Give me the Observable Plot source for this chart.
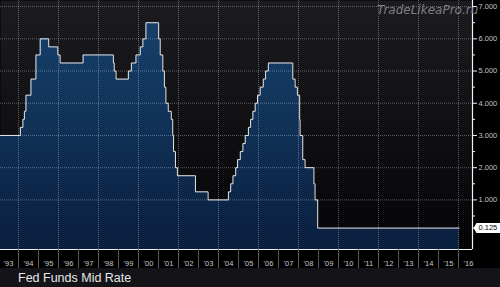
<!DOCTYPE html>
<html><head><meta charset="utf-8">
<script src="https://cdn.jsdelivr.net/npm/d3@7"></script>
<script src="https://cdn.jsdelivr.net/npm/@observablehq/plot@0.6"></script>
<style>
html,body{margin:0;padding:0;background:#000;}
#wrap{position:relative;width:500px;height:287px;overflow:hidden;background:#000;}
#chart svg{display:block;}
#caption{height:19px;background:#141418;color:#e8e8e8;font:12.5px "Liberation Sans",Arial,sans-serif;padding-left:18px;box-sizing:border-box;line-height:19px;padding-top:1px;}
#wm{position:absolute;left:377px;top:3px;font:italic 12px "DejaVu Sans",sans-serif;color:#7e7e84;white-space:nowrap;}
</style></head><body>
<div id="wrap"><div id="chart"></div><div id="caption">Fed Funds Mid Rate</div><div id="wm">TradeLikeaPro.ru</div></div>
<script>
// Fed funds mid rate: dates of each change and the new level
const changeDates = ["1992-09-04","1994-02-04","1994-03-22","1994-04-18","1994-05-17","1994-08-16","1994-11-15","1995-02-01","1995-07-06","1995-12-19","1996-01-31","1997-03-25","1998-09-29","1998-10-15","1998-11-17","1999-06-30","1999-08-24","1999-11-16","2000-02-02","2000-03-21","2000-05-16","2001-01-03","2001-01-31","2001-03-20","2001-04-18","2001-05-15","2001-06-27","2001-08-21","2001-09-17","2001-10-02","2001-11-06","2001-12-11","2002-11-06","2003-06-25","2004-06-30","2004-08-10","2004-09-21","2004-11-10","2004-12-14","2005-02-02","2005-03-22","2005-05-03","2005-06-30","2005-08-09","2005-09-20","2005-11-01","2005-12-13","2006-01-31","2006-03-28","2006-05-10","2006-06-29","2007-09-18","2007-10-31","2007-12-11","2008-01-22","2008-01-30","2008-03-18","2008-04-30","2008-10-08","2008-10-29","2008-12-16","2016-01-15"];
const rates = [3.00,3.25,3.50,3.75,4.25,4.75,5.50,6.00,5.75,5.50,5.25,5.50,5.25,5.00,4.75,5.00,5.25,5.50,5.75,6.00,6.50,6.00,5.50,5.00,4.50,4.00,3.75,3.50,3.00,2.50,2.00,1.75,1.25,1.00,1.25,1.50,1.75,2.00,2.25,2.50,2.75,3.00,3.25,3.50,3.75,4.00,4.25,4.50,4.75,5.00,5.25,4.75,4.50,4.25,3.50,3.00,2.25,2.00,1.50,1.00,0.125,0.125];
const yearLabels = [1993,1994,1995,1996,1997,1998,1999,2000,2001,2002,2003,2004,2005,2006,2007,2008,2009,2010,2011,2012,2013,2014,2015,2016];
const gridYears = [1994,1996,1998,2000,2002,2004,2006,2008,2010,2012,2014,2016];
const yTicks = [1,2,3,4,5,6,7];
const yMinorTicks = [0.5,1.5,2.5,3.5,4.5,5.5,6.5];
const lastValue = [0.125];
const xDomain = ["1993-02-06","2016-09-12"];
const yDomain = [-0.54, 7.19];

const data = changeDates.map((d,i)=>({date:new Date(d+"T00:00:00Z"), rate:rates[i]}));
const utc = (y,m,d)=>new Date(Date.UTC(y,m,d));
const yearStarts = d3.range(1993,2018).map(y=>utc(y,0,1));
const midYears = yearLabels.map(y=>utc(y,6,1));
const grids = gridYears.map(y=>utc(y,0,1));
const xd = xDomain.map(d=>new Date(d+"T00:00:00Z"));
const font = "'Liberation Sans', Arial, sans-serif";

const chart = Plot.plot({
  width: 500, height: 268,
  marginTop: 0, marginBottom: 19, marginLeft: 0, marginRight: 28,
  style: {background: "#000", fontFamily: font, overflow: "visible"},
  x: {type: "utc", domain: xd},
  y: {domain: yDomain},
  marks: [
    Plot.frame({fill: "url(#bgGrad)", stroke: null}),
    Plot.areaY(data, {x: "date", y1: () => yDomain[0], y2: "rate", curve: "step-after", fill: "url(#areaGrad)", clip: true}),
    Plot.ruleY(yTicks, {stroke: "#fff", strokeOpacity: 0.32, strokeDasharray: "1,1"}),
    Plot.ruleX(grids, {stroke: "#fff", strokeOpacity: 0.32, strokeDasharray: "1,1"}),
    Plot.lineY(data, {x: "date", y: "rate", curve: "step-after", stroke: "#e6e6e6", strokeWidth: 1, clip: true}),
    Plot.ruleY([yDomain[0]], {stroke: "#f2f2f2", strokeWidth: 1.2}),
    Plot.ruleX([xd[1]], {stroke: "#f2f2f2", strokeWidth: 1.2}),
    Plot.axisX(yearStarts.filter(d=>d>=xd[0] && d<=xd[1]), {tickSize: 19, stroke: "#5a5a5a", text: null}),
    Plot.axisX(midYears, {tickSize: 0, tickPadding: 11, tickFormat: d => "'" + String(d.getUTCFullYear()).slice(2), fill: "#c8c8c8", fontSize: 7.5, label: null}),
    Plot.axisY(yTicks, {anchor: "right", tickSize: 4, tickPadding: 2, stroke: "#f2f2f2", tickFormat: d => d.toFixed(3), fill: "#c4c4c4", fontSize: 7.5, textAnchor: "start", label: null}),
    Plot.axisY(yMinorTicks, {anchor: "right", tickSize: 2, stroke: "#f2f2f2", text: null, label: null}),
    Plot.axisY(lastValue, {anchor: "right", tickSize: 3, tickPadding: 3, stroke: "#f2f2f2", tickFormat: d => d.toFixed(3), fill: "#000", fontSize: 7.5, textAnchor: "start", label: null})
  ]
});

document.getElementById("chart").appendChild(chart);
const svg = d3.select(chart);
const defs = svg.insert("defs", ":first-child");
const bg = defs.append("linearGradient").attr("id","bgGrad").attr("x1",0).attr("y1",0).attr("x2",0).attr("y2",1);
bg.append("stop").attr("offset","0%").attr("stop-color","#1c1c20");
bg.append("stop").attr("offset","60%").attr("stop-color","#0e0e11");
bg.append("stop").attr("offset","100%").attr("stop-color","#040406");
const ag = defs.append("linearGradient").attr("id","areaGrad").attr("gradientUnits","userSpaceOnUse").attr("x1",0).attr("y1",0).attr("x2",0).attr("y2",249);
ag.append("stop").attr("offset","0%").attr("stop-color","#17436f");
ag.append("stop").attr("offset","100%").attr("stop-color","#0a1f3e");

// white label box behind the last-value tick label
svg.selectAll("text").each(function(){
  if (this.textContent === lastValue[0].toFixed(3)) {
    const b = this.getBBox();
    const p = document.createElementNS("http://www.w3.org/2000/svg","path");
    const x0 = b.x - 2, x1 = b.x + b.width + 6, y0 = b.y - 0.5, y1 = b.y + b.height + 0.5, ym = (y0+y1)/2;
    p.setAttribute("d", `M${x0-3},${ym}L${x0},${y0}H${x1}V${y1}H${x0}Z`);
    p.setAttribute("fill", "#fff");
    const t = this.getAttribute("transform");
    if (t) p.setAttribute("transform", t);
    this.parentNode.insertBefore(p, this);
  }
});
</script>
</body></html>
